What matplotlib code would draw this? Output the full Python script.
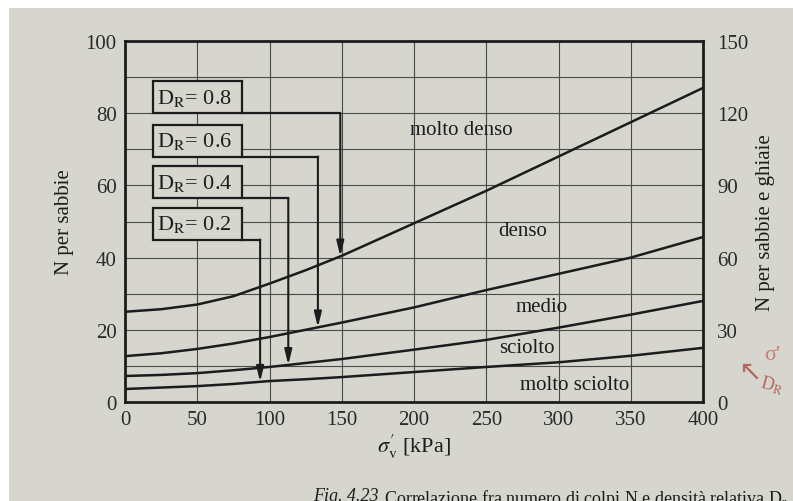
import numpy as np
import matplotlib
matplotlib.use("Agg")
import matplotlib.pyplot as plt
from matplotlib.patches import Rectangle

plt.rcParams['font.family'] = ['Liberation Serif', 'DejaVu Serif']
plt.rcParams['mathtext.fontset'] = 'stix'

# ---- data ----
sigma = [0, 25, 50, 75, 100, 125, 150, 200, 250, 300, 350, 400]
n_dr08 = [25.0, 25.7, 27.0, 29.3, 32.8, 36.5, 40.5, 49.5, 58.5, 68.0, 77.5, 87.0]
n_dr06 = [12.7, 13.5, 14.7, 16.2, 18.0, 20.0, 22.0, 26.2, 31.0, 35.5, 40.0, 45.7]
n_dr04 = [7.2, 7.5, 8.0, 8.8, 9.7, 10.8, 11.9, 14.5, 17.2, 20.6, 24.2, 28.0]
n_dr02 = [3.6, 4.0, 4.4, 5.0, 5.8, 6.3, 6.9, 8.3, 9.7, 11.0, 12.8, 15.0]
curves = [n_dr08, n_dr06, n_dr04, n_dr02]

dr_labels = ["0.8", "0.6", "0.4", "0.2"]
box_bottom = [80.0, 68.0, 56.5, 45.0]
arrow_x = [149.0, 133.5, 113.0, 93.5]

zone_labels = ["molto denso", "denso", "medio", "sciolto", "molto sciolto"]
zone_x = [233, 275, 288, 278, 311]
zone_y = [75.5, 47.5, 26.5, 15.0, 4.8]

x_ticks = [0, 50, 100, 150, 200, 250, 300, 350, 400]
y_ticks = [0, 20, 40, 60, 80, 100]
y2_ticks = [0, 30, 60, 90, 120, 150]

paper = '#d6d5ce'
ink = '#1c1c1c'

fig = plt.figure(figsize=(7.93, 5.02), dpi=100, facecolor='white')
fig.patches.append(Rectangle((9/793, 0), 1, 1 - 9/502, transform=fig.transFigure,
                             facecolor=paper, edgecolor='none', zorder=-10))

ax = fig.add_axes([125/793, 1 - 403/502, 578/793, 361/502])
ax.set_facecolor(paper)
ax.set_xlim(0, 400)
ax.set_ylim(0, 100)
ax.set_xticks(x_ticks)
ax.set_yticks(y_ticks)
ax.set_yticks(np.arange(0, 101, 10), minor=True)
ax.grid(True, which='both', axis='y', color='#4a4a4a', lw=0.8)
ax.grid(True, which='major', axis='x', color='#4a4a4a', lw=0.8)
ax.tick_params(which='both', length=0, labelsize=15, colors='#2a2a2a', pad=6)
for s in ax.spines.values():
    s.set_linewidth(2.0)
    s.set_color(ink)

for c in curves:
    ax.plot(sigma, c, color=ink, lw=1.8, zorder=3)

for lab, yb, xa, c in zip(dr_labels, box_bottom, arrow_x, curves):
    ax.add_patch(Rectangle((19.4, yb), 81 - 19.4, 8.8, facecolor=paper,
                           edgecolor=ink, lw=1.6, zorder=4))
    ax.text(22, yb + 4.4, r"D$_\mathrm{R}$= " + lab, fontsize=16, va='center',
            ha='left', color=ink, zorder=5)
    ax.plot([81, xa], [yb, yb], color=ink, lw=1.6, zorder=4)
    yt = np.interp(xa, sigma, c)
    ax.annotate('', xy=(xa, yt), xytext=(xa, yb),
                arrowprops=dict(arrowstyle='-|>,head_length=0.9,head_width=0.22',
                                lw=1.5, color=ink, shrinkA=0, shrinkB=0),
                zorder=5)

for t, x, y in zip(zone_labels, zone_x, zone_y):
    ax.text(x, y, t, fontsize=15, ha='center', va='center', color=ink, zorder=5)

ax.set_ylabel("N per sabbie", fontsize=15, color=ink, labelpad=8)
ax.set_xlabel(r"$\sigma^{\prime}_{\mathrm{v}}$ [kPa]", fontsize=16, color=ink, labelpad=2)

ax2 = ax.twinx()
ax2.set_ylim(0, 150)
ax2.set_yticks(y2_ticks)
ax2.tick_params(length=0, labelsize=15, colors='#2a2a2a', pad=10)
for s in ax2.spines.values():
    s.set_visible(False)
ax2.set_ylabel("N per sabbie e ghiaie", fontsize=15, color=ink, labelpad=6)

fig.text(313/793, 1 - 488/502, "Fig. 4.23", fontsize=13, style='italic',
         va='top', ha='left', color=ink)
fig.text(384/793, 1 - 488/502, r"Correlazione fra numero di colpi N e densità relativa D$_\mathrm{r}$",
         fontsize=13, va='top', ha='left', color=ink)

fig.text(750/793, 1 - 372/502, "↖", fontsize=20, color='#b06a62', ha='center', va='center',
         family=['DejaVu Sans'])
fig.text(772/793, 1 - 356/502, "σ'", fontsize=16, color='#c08078', ha='center', va='center')
fig.text(772/793, 1 - 386/502, "D$_\\mathrm{R}$", fontsize=13, color='#b06a62', ha='center',
         va='center', rotation=-15)

fig.savefig("out.png", dpi=100, facecolor=fig.get_facecolor())
